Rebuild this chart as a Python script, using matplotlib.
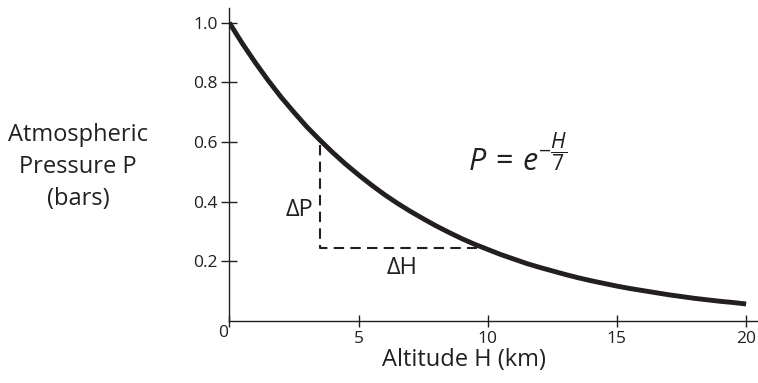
import matplotlib
matplotlib.use("Agg")
import matplotlib.pyplot as plt
from matplotlib.transforms import ScaledTranslation

# Data
altitude_km = [0, 0.5, 1, 1.5, 2, 2.5, 3, 3.5, 4, 4.5, 5, 5.5, 6, 6.5, 7, 7.5, 8, 8.5, 9, 9.5,
               10, 10.5, 11, 11.5, 12, 12.5, 13, 13.5, 14, 14.5, 15, 15.5, 16, 16.5, 17, 17.5,
               18, 18.5, 19, 19.5, 20]
pressure_bars = [1.000, 0.931, 0.867, 0.807, 0.751, 0.700, 0.651, 0.607, 0.565, 0.526,
                 0.490, 0.456, 0.424, 0.395, 0.368, 0.343, 0.319, 0.297, 0.276, 0.257,
                 0.240, 0.223, 0.208, 0.193, 0.180, 0.168, 0.156, 0.145, 0.135, 0.126,
                 0.117, 0.109, 0.102, 0.095, 0.088, 0.082, 0.076, 0.071, 0.066, 0.062, 0.057]
dash_H = [3.5, 3.5, 9.6]
dash_P = [0.59, 0.245, 0.245]
x_ticks = [0, 5, 10, 15, 20]
y_ticks = [0.2, 0.4, 0.6, 0.8, 1.0]
y_tick_labels = ["0.2", "0.4", "0.6", "0.8", "1.0"]

plt.rcParams['font.family'] = ['Open Sans', 'DejaVu Sans']
plt.rcParams['mathtext.fontset'] = 'custom'
plt.rcParams['mathtext.rm'] = 'Open Sans'
plt.rcParams['mathtext.it'] = 'Open Sans:italic'
plt.rcParams['mathtext.bf'] = 'Open Sans:bold'

W, H = 758, 383
fig = plt.figure(figsize=(W / 100, H / 100), dpi=100)
x0, y0 = 229.3, 321.0
ax = fig.add_axes([x0 / W, (H - y0) / H, (W - x0) / W, (y0 - 7.8) / H])

ax.plot(altitude_km, pressure_bars, color='#231f20', lw=3.5, solid_capstyle='butt',
        solid_joinstyle='round')
ax.plot(dash_H, dash_P, color='#231f20', lw=1.5, dashes=(5, 3))

ax.set_xlim(0, (W - x0) / 25.84)
ax.set_ylim(0, 1.05)
for s in ['top', 'right']:
    ax.spines[s].set_visible(False)
for s in ['left', 'bottom']:
    ax.spines[s].set_linewidth(1.0)
    ax.spines[s].set_color('#231f20')

ax.set_xticks(x_ticks)
ax.set_xticklabels([str(t) for t in x_ticks])
ax.set_yticks(y_ticks)
ax.set_yticklabels(y_tick_labels)
ax.tick_params(axis='x', direction='inout', length=9, width=1.0, pad=2.5, labelsize=12.5, colors='#231f20')
ax.tick_params(axis='y', direction='inout', length=12, width=1.0, pad=2.5, labelsize=12.5, colors='#231f20')

fig.canvas.draw()
lab0 = ax.get_xticklabels()[0]
lab0.set_transform(lab0.get_transform() + ScaledTranslation(-6 / 100, 6 / 100, fig.dpi_scale_trans))

ax.set_xlabel('Altitude H (km)', fontsize=17, labelpad=4, color='#231f20')
ax.xaxis.set_label_coords(0.444, -0.085)
fig.text(78 / W, 1 - 167 / H, 'Atmospheric\nPressure P\n(bars)', ha='center', va='center',
         fontsize=17, linespacing=1.46, color='#231f20')

ax.text(2.7, 0.372, r'ΔP', ha='center', va='center', fontsize=17, color='#231f20')
ax.text(6.68, 0.178, r'ΔH', ha='center', va='center', fontsize=17, color='#231f20')
ax.text(9.25, 0.504, r'$P\,=\,e^{-\dfrac{H}{7}}$', ha='left', va='baseline', fontsize=22, color='#231f20')

fig.savefig('out.png', dpi=100)
